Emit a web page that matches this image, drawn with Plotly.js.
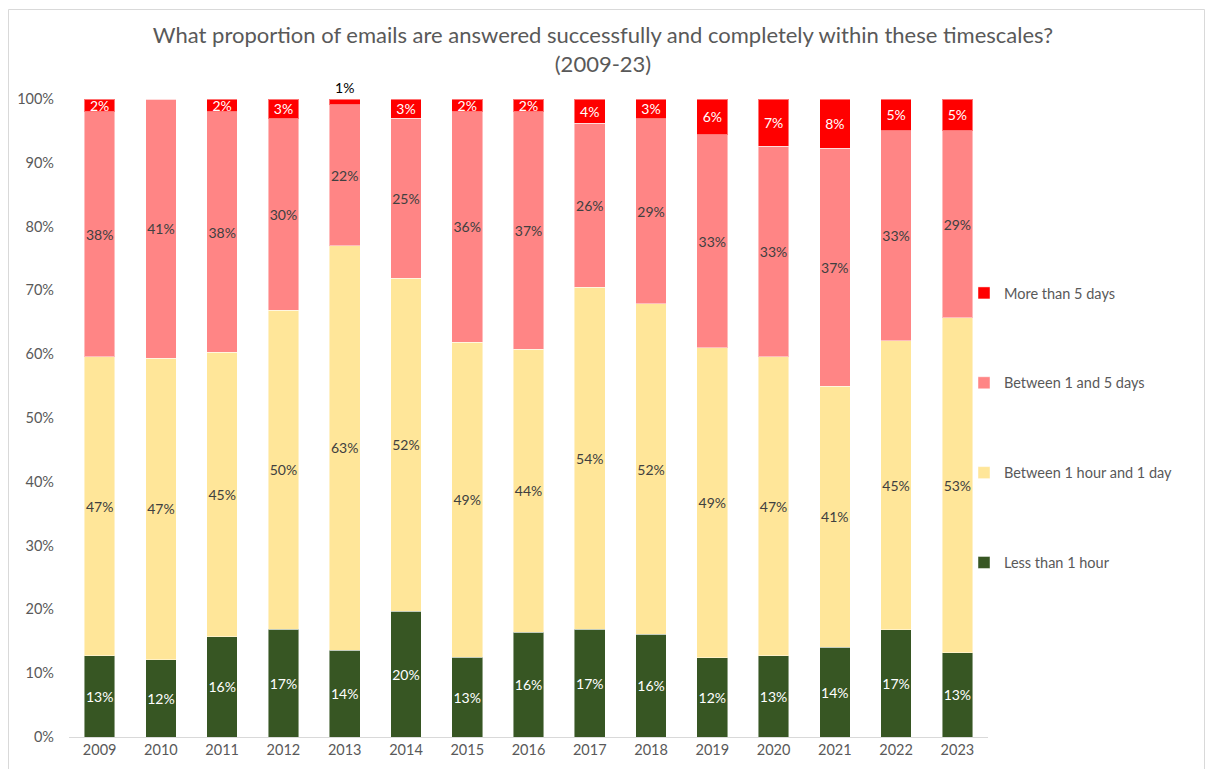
<!DOCTYPE html>
<html><head><meta charset="utf-8">
<script src="https://cdn.plot.ly/plotly-3.0.1.min.js"></script>
<style>html,body{margin:0;padding:0;background:#fff}#chart{width:1206px;height:769px}</style>
</head><body><div id="chart"></div>
<script>
const years = ["2009","2010","2011","2012","2013","2014","2015","2016","2017","2018","2019","2020","2021","2022","2023"];
const lessThan1Hour = [12.7,12.1,15.7,16.9,13.6,19.7,12.5,16.4,16.9,16.1,12.4,12.7,14.1,16.8,13.2];
const hourToDay = [46.9,47.3,44.6,50.0,63.4,52.2,49.4,44.4,53.6,51.8,48.6,46.9,40.9,45.3,52.5];
const oneToFiveDays = [38.4,40.6,37.7,30.0,22.1,25.1,36.1,37.2,25.7,29.0,33.4,33.0,37.3,32.9,29.3];
const moreThan5Days = [2.0,0,2.0,3.1,0.9,3.0,2.0,2.0,3.8,3.1,5.6,7.4,7.7,5.0,5.0];
const seriesNames = ["Less than 1 hour","Between 1 hour and 1 day","Between 1 and 5 days","More than 5 days"];

const colors = ["#375623","#FFE699","#FF8585","#FF0000"];
const labelColors = ["#ffffff","#404040","#404040","#ffffff"];
const font = "Lato, 'Open Sans', sans-serif";
const allSeries = [lessThan1Hour, hourToDay, oneToFiveDays, moreThan5Days];

const traces = allSeries.map((vals, i) => {
  const text = vals.map(v => v > 0 ? Math.round(v) + "%" : "");
  const pos = vals.map(v => (i === 3 && v > 0 && v < 1.5) ? "outside" : "inside");
  const tcol = vals.map(v => (i === 3 && v > 0 && v < 1.5) ? "#000000" : labelColors[i]);
  return {
    type: "bar", x: years, y: vals, name: seriesNames[i],
    legendgroup: "g" + i, legendrank: 4 - i,
    marker: {color: colors[i], line: {color: "rgba(255,255,255,0.45)", width: 1}},
    text: text, textposition: pos, insidetextanchor: "middle", textangle: 0,
    textfont: {family: font, size: 14, color: tcol},
    constraintext: "none", cliponaxis: false,
    hoverinfo: "x+y+name"
  };
});

const plotL = 69, plotR = 988, plotT = 99, plotB = 737;
const pw = plotR - plotL, ph = plotB - plotT;
const px = x => (x - plotL) / pw;
const py = y => (plotB - y) / ph;

const layout = {
  width: 1206, height: 769,
  margin: {l: plotL, r: 1206 - plotR, t: plotT, b: 769 - plotB},
  paper_bgcolor: "#ffffff", plot_bgcolor: "#ffffff",
  barmode: "stack", bargap: 0.5,
  title: {text: "What proportion of emails are answered successfully and completely within these timescales?<br>(2009-23)",
          font: {family: font, size: 22, color: "#595959"}, xref: "container", x: 0.5, y: 0.944, yanchor: "top"},
  uniformtext: {mode: "show", minsize: 14},
  xaxis: {type: "category", showgrid: false, showline: true, linecolor: "#d9d9d9", linewidth: 1, ticks: "",
          tickfont: {family: font, size: 14.5, color: "#595959"}, fixedrange: true},
  yaxis: {range: [0, 100], dtick: 10, ticksuffix: "%", showgrid: false, zeroline: false, showline: false,
          tickfont: {family: font, size: 14.5, color: "#595959"}, ticklabelstandoff: 14, fixedrange: true},
  legend: {x: px(964), y: py(277), xanchor: "left", yanchor: "top", traceorder: "grouped",
           tracegroupgap: 68, font: {family: font, size: 14.5, color: "#595959"}, itemwidth: 30,
           bgcolor: "rgba(0,0,0,0)"},
  shapes: [{type: "rect", xref: "paper", yref: "paper",
            x0: px(8.5), x1: px(1204.5), y0: py(780), y1: py(9.5),
            line: {color: "#d9d9d9", width: 1}, fillcolor: "rgba(0,0,0,0)", layer: "below"}]
};

Plotly.newPlot("chart", traces, layout, {displayModeBar: false, staticPlot: true});
</script></body></html>
